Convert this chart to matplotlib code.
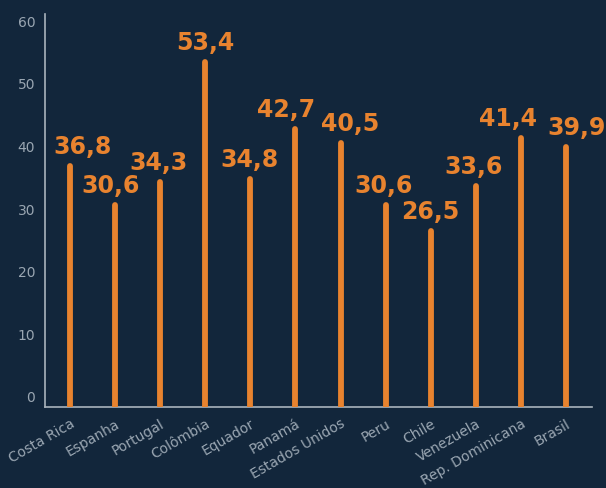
import matplotlib.pyplot as plt

paises = ["Costa Rica", "Espanha", "Portugal", "Colômbia", "Equador", "Panamá",
          "Estados Unidos", "Peru", "Chile", "Venezuela", "Rep. Dominicana", "Brasil"]
valores = [36.8, 30.6, 34.3, 53.4, 34.8, 42.7, 40.5, 30.6, 26.5, 33.6, 41.4, 39.9]
yticks = [0, 10, 20, 30, 40, 50, 60]

# deslocamento horizontal dos rótulos (pixels), para não se sobreporem
desloc = [13, -4, -2, 0, -1, -9, 10, -2, 0, -2, -13, 10]

fundo = "#12263b"
laranja = "#e8832f"
cinza = "#9aa6b2"

fig = plt.figure(figsize=(6.06, 4.88), dpi=100, facecolor=fundo)
ax = fig.add_axes([0.0743, 0.166, 0.903, 0.805], facecolor=fundo)

ymin, ymax = -1.6, 61.1
x = list(range(len(paises)))
ax.vlines(x, ymin, valores, color=laranja, linewidth=4.2, capstyle="round", zorder=3)

for xi, v, dx in zip(x, valores, desloc):
    ax.annotate(f"{v:.1f}".replace(".", ","), xy=(xi, v), xytext=(dx, 12),
                textcoords="offset pixels", ha="center", va="baseline",
                color=laranja, fontsize=17, fontweight="bold", family="DejaVu Sans")

ax.set_xlim(-0.55, 11.58)
ax.set_ylim(ymin, ymax)
ax.set_yticks(yticks)
ax.set_yticklabels([str(t) for t in yticks], color=cinza, fontsize=10)
ax.set_xticks(x)
ax.set_xticklabels(paises, rotation=30, ha="right", rotation_mode="anchor",
                   color=cinza, fontsize=10)
ax.tick_params(axis="both", length=0, pad=7)

for s in ["top", "right"]:
    ax.spines[s].set_visible(False)
for s in ["left", "bottom"]:
    ax.spines[s].set_color("#a9b3bc")
    ax.spines[s].set_linewidth(1.2)

fig.savefig("out.png", dpi=100, facecolor=fundo)
